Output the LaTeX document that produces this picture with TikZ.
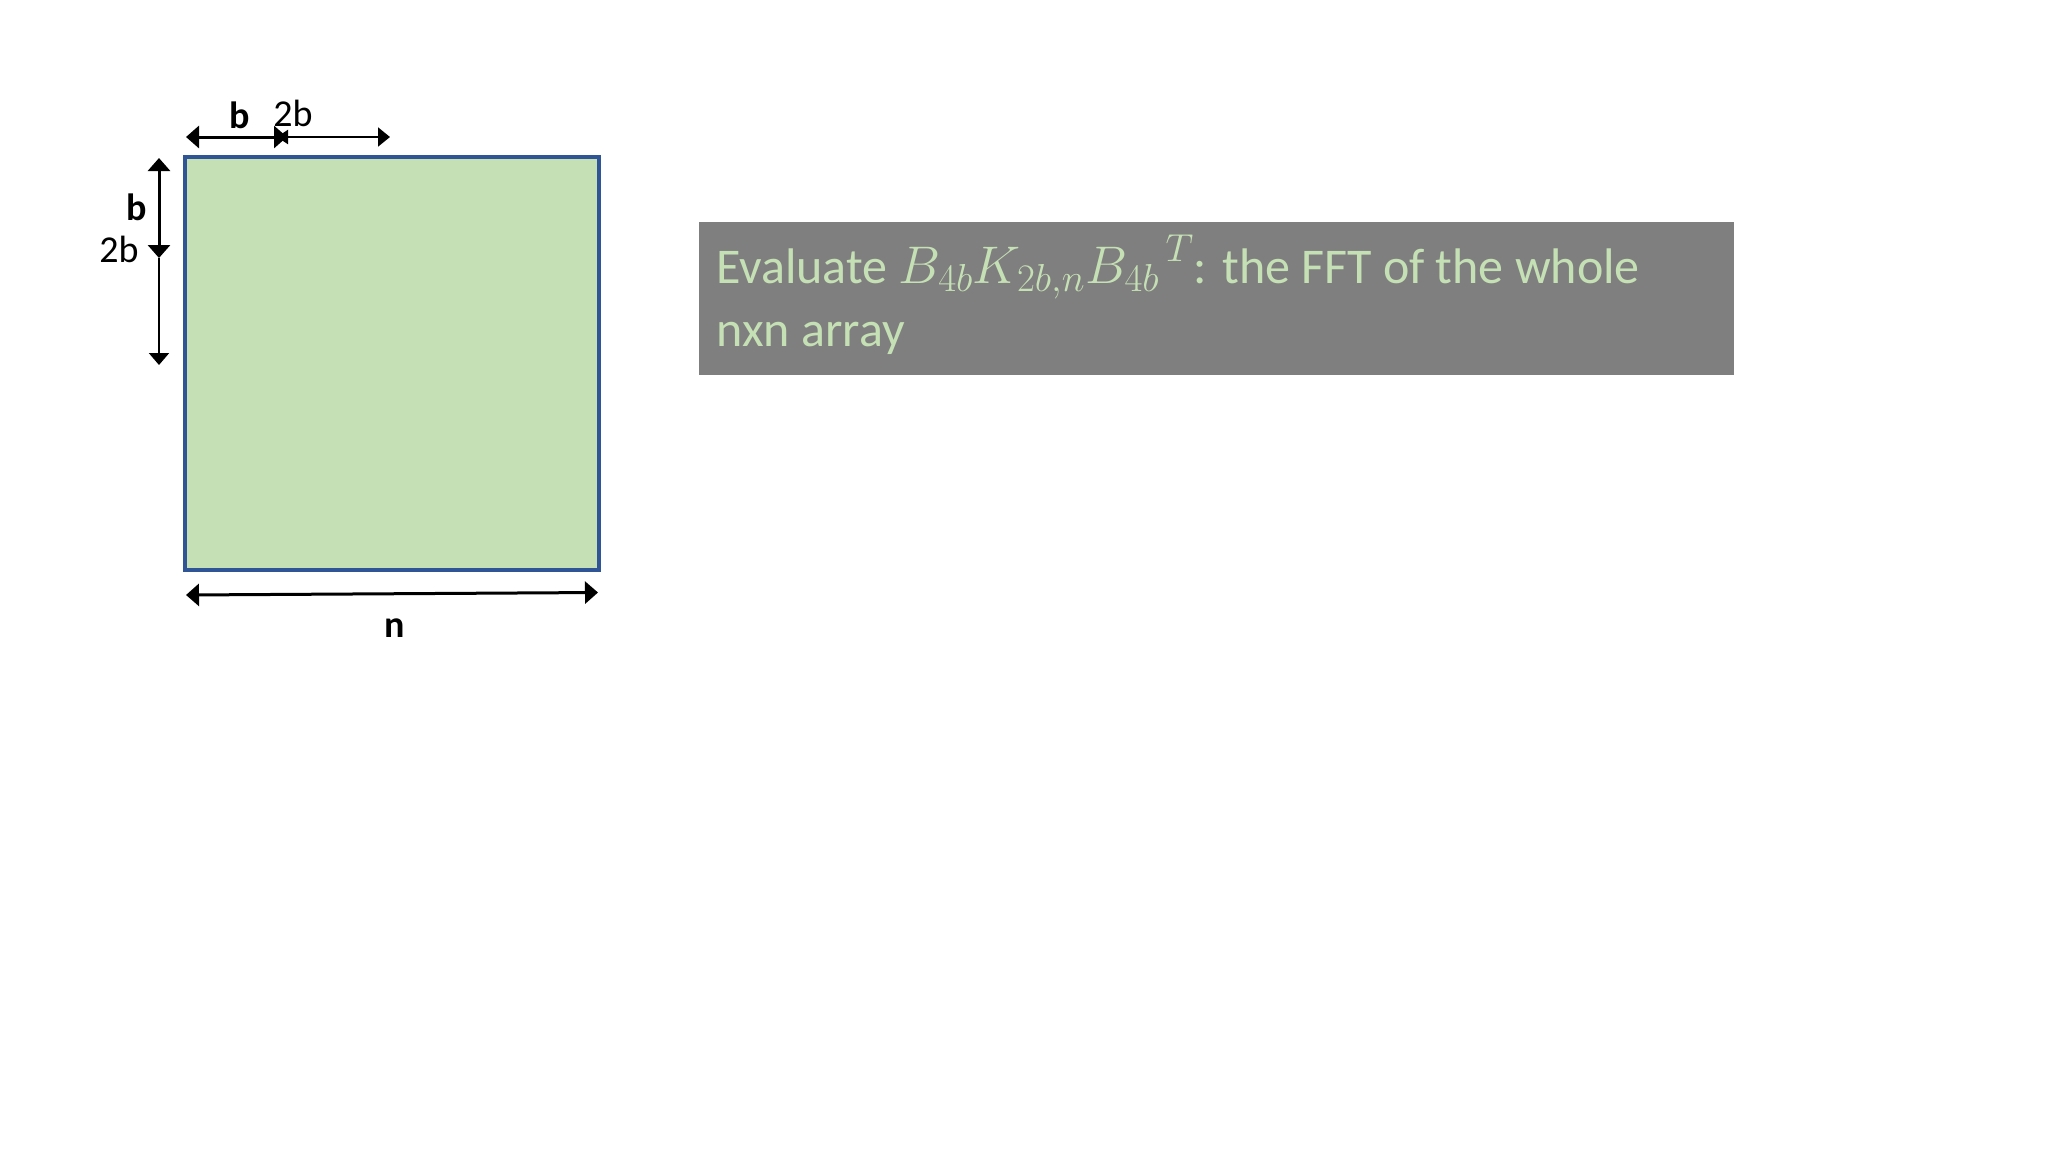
\RequirePackage{fix-cm}
\documentclass[tikz,border=0pt]{standalone}
\usepackage{fontspec}
\setmainfont{Carlito}
\usetikzlibrary{arrows.meta}
\DeclareMathSizes{50}{53}{39}{30}
\definecolor{boxgreen}{HTML}{C5E0B4}
\definecolor{boxblue}{HTML}{2F5597}
\definecolor{panelgray}{HTML}{7F7F7F}
\begin{document}
\begin{tikzpicture}[x=1pt,y=-1pt,
  dimarrow/.style={line width=3pt,{Triangle[length=13pt,width=22pt]}-{Triangle[length=13pt,width=22pt]}},
  thinarrow/.style={line width=2pt,{Triangle[length=11pt,width=14pt]}-{Triangle[length=12pt,width=19pt]}},
  thinend/.style={line width=2pt,-{Triangle[length=12pt,width=20pt]}},
  dimlabel/.style={inner sep=0pt,font=\fontsize{38}{46}\selectfont},
  matrixbox/.style={draw=boxblue,line width=3.5pt,fill=boxgreen,minimum width=414pt,minimum height=413pt,inner sep=0pt},
  panel/.style={fill=panelgray,minimum width=1035pt,minimum height=153pt,inner sep=0pt},
  paneltext/.style={inner sep=0pt,text=boxgreen,align=left,font=\fontsize{50}{63}\selectfont}]
\path[use as bounding box,fill=white] (0,0) rectangle (2048,1152);
% matrix square
\node[matrixbox] (sq) at (392,363.5) {};
% top dimension arrows
\coordinate (h1a) at (186,137);
\coordinate (h1b) at (287,137);
\coordinate (h2a) at (277,137);
\coordinate (h2b) at (390,137);
\draw[thinarrow] (h2a) -- (h2b);
\draw[dimarrow] (h1a) -- (h1b);
\node[dimlabel,anchor=base] (lb1) at (240,128) {\bfseries b};
\node[dimlabel,anchor=base] (lb2) at (293,126) {2b};
% left dimension arrows
\coordinate (v1a) at (159,158);
\coordinate (v1b) at (159,258);
\coordinate (v2b) at (159,365);
\draw[thinend] (v1b) -- (v2b);
\draw[dimarrow] (v1a) -- (v1b);
\node[dimlabel,anchor=base] (lv1) at (137,220) {\bfseries b};
\node[dimlabel,anchor=base] (lv2) at (119,262) {2b};
% bottom arrow
\coordinate (b1) at (186,595);
\coordinate (b2) at (598,592.5);
\draw[dimarrow] (b1) -- (b2);
\node[dimlabel,anchor=base] (ln) at (395,637) {\bfseries n};
% text panel
\node[panel] (tb) at (1216.5,298.5) {};
\node[paneltext,anchor=base west] (tt) at (716,346)
  {Evaluate $B_{4b}K_{2b,n}{B_{4b}}^{\,T}$: the FFT of the whole\\nxn array};
\end{tikzpicture}
\end{document}
